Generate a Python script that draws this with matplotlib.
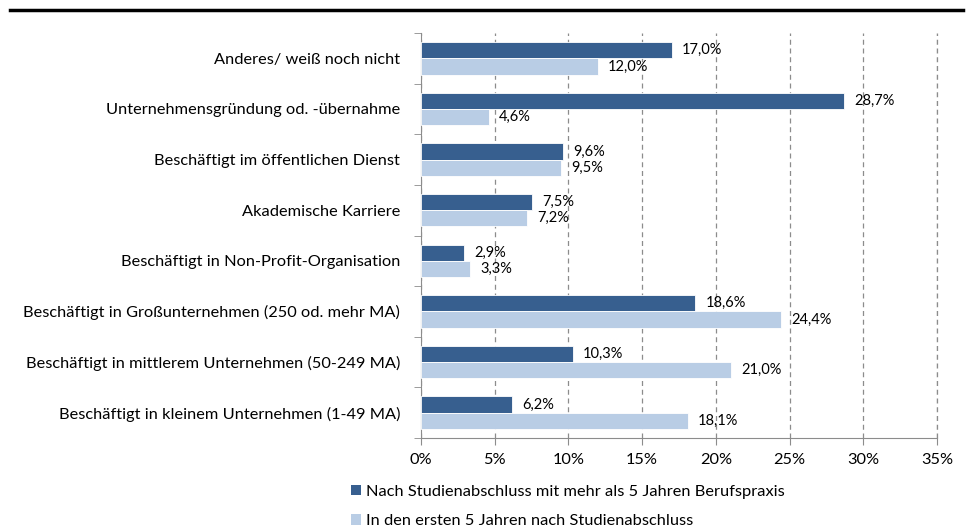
import matplotlib
matplotlib.use("Agg")
import matplotlib.pyplot as plt
from matplotlib.lines import Line2D
from matplotlib.patches import Patch
import numpy as np

plt.rcParams["font.family"] = ["Lato", "DejaVu Sans"]

categories = [
    "Anderes/ weiß noch nicht",
    "Unternehmensgründung od. -übernahme",
    "Beschäftigt im öffentlichen Dienst",
    "Akademische Karriere",
    "Beschäftigt in Non-Profit-Organisation",
    "Beschäftigt in Großunternehmen (250 od. mehr MA)",
    "Beschäftigt in mittlerem Unternehmen (50-249 MA)",
    "Beschäftigt in kleinem Unternehmen (1-49 MA)",
]
series_names = [
    "Nach Studienabschluss mit mehr als 5 Jahren Berufspraxis",
    "In den ersten 5 Jahren nach Studienabschluss",
]
berufspraxis = [17.0, 28.7, 9.6, 7.5, 2.9, 18.6, 10.3, 6.2]
erste_jahre = [12.0, 4.6, 9.5, 7.2, 3.3, 24.4, 21.0, 18.1]
x_ticks = [0, 5, 10, 15, 20, 25, 30, 35]

DARK = "#375F8F"
LIGHT = "#B9CDE5"
GRID = "#8C8C8C"

fig = plt.figure(figsize=(9.73, 5.29), dpi=100)
ax = fig.add_axes([421 / 973, 1 - 438 / 529, (937 - 421) / 973, (438 - 33) / 529])

y = np.arange(len(categories))
h = 0.32
ax.barh(y - h / 2, berufspraxis, height=h, color=DARK, edgecolor="white", linewidth=0.6, zorder=3)
ax.barh(y + h / 2, erste_jahre, height=h, color=LIGHT, edgecolor="white", linewidth=0.6, zorder=3)

for i, (a, b) in enumerate(zip(berufspraxis, erste_jahre)):
    ax.text(a + 0.7, i - h / 2, f"{a:.1f}%".replace(".", ","), va="center", ha="left", fontsize=10.5)
    ax.text(b + 0.7, i + h / 2, f"{b:.1f}%".replace(".", ","), va="center", ha="left", fontsize=10.5)

ax.set_xlim(0, 35)
ax.set_ylim(len(categories) - 0.5, -0.5)
ax.set_xticks(x_ticks)
ax.set_xticklabels([f"{t}%" for t in x_ticks], fontsize=11.8)
ax.set_yticks(y)
ax.set_yticklabels(categories, fontsize=11.8)
ax.tick_params(axis="y", length=0, pad=15)
ax.set_yticks(np.arange(len(categories) + 1) - 0.5, minor=True)
ax.tick_params(axis="y", which="minor", length=5, color=GRID, direction="out")
ax.tick_params(axis="x", length=5, color=GRID, direction="out", pad=6)

ax.grid(axis="x", linestyle=(0, (4, 3)), color=GRID, linewidth=0.9, zorder=0)
# last gridline sits on the axes edge, draw it unclipped
ax.axvline(x_ticks[-1], linestyle=(0, (4, 3)), color=GRID, linewidth=0.9, zorder=0, clip_on=False)
for side in ["top", "right"]:
    ax.spines[side].set_visible(False)
for side in ["left", "bottom"]:
    ax.spines[side].set_color(GRID)

handles = [Patch(facecolor=DARK), Patch(facecolor=LIGHT)]
fig.legend(
    handles,
    series_names,
    loc="upper left",
    bbox_to_anchor=(336 / 973, 1 - 470 / 529),
    frameon=False,
    fontsize=11.8,
    handlelength=0.6,
    handleheight=0.6,
    handletextpad=0.3,
    labelspacing=0.95,
)

fig.add_artist(Line2D([10 / 973, 963 / 973], [1 - 10 / 529, 1 - 10 / 529], color="black", linewidth=2.5))

fig.savefig("out.png", dpi=100)
